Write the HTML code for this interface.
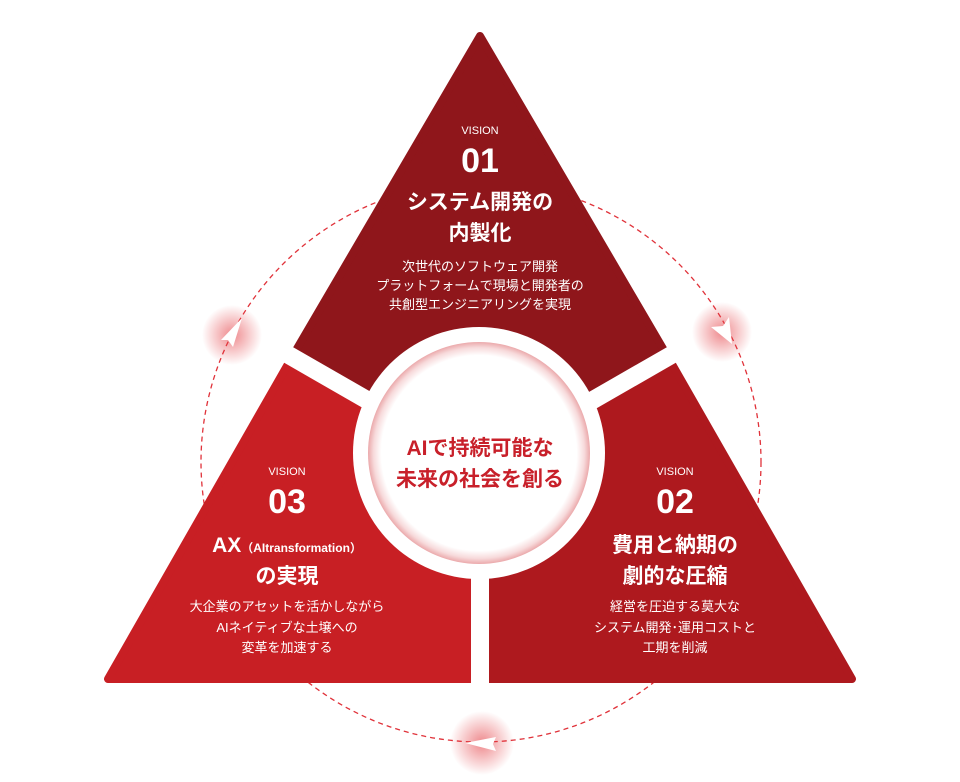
<!DOCTYPE html>
<html><head><meta charset="utf-8">
<style>
html,body{margin:0;padding:0;background:#fff;}
svg{display:block;}
text{font-family:"Liberation Sans","Noto Sans CJK JP",sans-serif;fill:#fff;text-anchor:middle;}
.v{font-size:11px;}
.n{font-size:34px;font-weight:bold;}
.t{font-size:21px;font-weight:bold;}
.d{font-size:13px;}
</style></head><body>
<svg width="960" height="782" viewBox="0 0 960 782" xmlns="http://www.w3.org/2000/svg">
<defs>
<radialGradient id="ring" cx="50%" cy="50%" r="50%">
<stop offset="0.88" stop-color="#fff"/>
<stop offset="0.95" stop-color="#f7dadb"/>
<stop offset="1" stop-color="#eba9ab"/>
</radialGradient>
<radialGradient id="glow" cx="50%" cy="50%" r="50%">
<stop offset="0" stop-color="#e33a40" stop-opacity="0.6"/>
<stop offset="1" stop-color="#e33a40" stop-opacity="0"/>
</radialGradient>
</defs>
<circle cx="481" cy="462" r="280" fill="none" stroke="#e0323a" stroke-width="1.3" stroke-dasharray="5 4"/>
<circle cx="232" cy="335" r="30" fill="url(#glow)"/>
<circle cx="722" cy="332" r="30" fill="url(#glow)"/>
<circle cx="482" cy="743" r="32" fill="url(#glow)"/>
<g stroke-linejoin="round" stroke-width="8">
<polygon points="480,36 291.5,358 480,465 668.5,358" fill="#8f161b" stroke="#8f161b"/>
<polygon points="291.5,358 108,679 480,679 480,465" fill="#c81f24" stroke="#c81f24"/>
<polygon points="668.5,358 852,679 480,679 480,465" fill="#ae191e" stroke="#ae191e"/>
</g>
<g stroke="#fff" stroke-width="18">
<line x1="480" y1="465" x2="280" y2="350"/>
<line x1="480" y1="465" x2="680" y2="350"/>
<line x1="480" y1="465" x2="480" y2="700"/>
</g>
<circle cx="479" cy="453" r="126" fill="#fff"/>
<circle cx="479" cy="453" r="111" fill="url(#ring)"/>
<polygon points="242,318 221,340 228,340 233,347" fill="#fff"/>
<polygon points="732,344 729,317 723,326 711,327" fill="#fff"/>
<polygon points="465,743 496,737 493,744 496,751" fill="#fff"/>
<text x="480" y="455" style="font-size:21px;font-weight:bold;fill:#c8202a">AIで持続可能な</text>
<text x="480" y="486" style="font-size:21px;font-weight:bold;fill:#c8202a">未来の社会を創る</text>
<text class="v" x="480" y="134">VISION</text>
<text class="n" x="480" y="172">01</text>
<text class="t" x="480" y="209">システム開発の</text>
<text class="t" x="480" y="240">内製化</text>
<text class="d" x="480" y="271">次世代のソフトウェア開発</text>
<text class="d" x="480" y="290">プラットフォームで現場と開発者の</text>
<text class="d" x="480" y="309">共創型エンジニアリングを実現</text>
<text class="v" x="287" y="475">VISION</text>
<text class="n" x="287" y="513">03</text>
<text class="t" x="287" y="552">AX<tspan style="font-size:12px">（AItransformation）</tspan></text>
<text class="t" x="287" y="583">の実現</text>
<text class="d" x="287" y="611">大企業のアセットを活かしながら</text>
<text class="d" x="287" y="632">AIネイティブな土壌への</text>
<text class="d" x="287" y="652">変革を加速する</text>
<text class="v" x="675" y="475">VISION</text>
<text class="n" x="675" y="513">02</text>
<text class="t" x="675" y="552">費用と納期の</text>
<text class="t" x="675" y="583">劇的な圧縮</text>
<text class="d" x="675" y="611">経営を圧迫する莫大な</text>
<text class="d" x="675" y="632">システム開発･運用コストと</text>
<text class="d" x="675" y="652">工期を削減</text>
</svg>
</body></html>
